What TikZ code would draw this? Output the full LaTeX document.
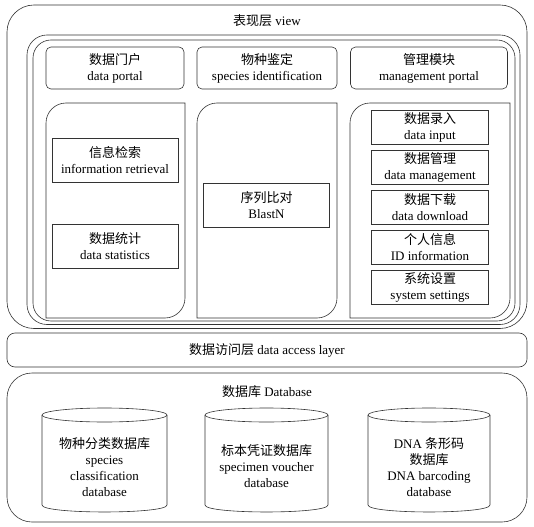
\documentclass[tikz,border=0pt]{standalone}
\usepackage{fontspec}
\setmainfont{Liberation Serif}
\newfontfamily\zh{Noto Sans CJK SC}
\usepackage{tikz}
\usetikzlibrary{positioning}
\tikzset{
  frame/.style={draw=black!80, line width=0.6pt},
  box/.style={frame, align=center, inner sep=2pt,
              font=\fontsize{13}{16}\selectfont},
  portal/.style={box, rounded corners=5pt, minimum height=42pt},
  item/.style={box, minimum width=126pt, minimum height=44pt},
  subitem/.style={box, minimum width=117pt, minimum height=34pt},
  caption/.style={align=center, font=\fontsize{13}{16}\selectfont},
}

\begin{document}
\begin{tikzpicture}[x=1pt, y=-1pt]
    \useasboundingbox (0,0) rectangle (534,526);
    % presentation layer
    \draw[frame, rounded corners=27pt] (7,5) rectangle (527,328.5);
    \node[caption] (view) at (267,21) {{\zh 表现层} view};
    \draw[frame, rounded corners=20pt] (27,35) rectangle (520,324.5);
    \draw[frame, rounded corners=18pt] (33,40) rectangle (515,321);
    % portals
    \node[portal, minimum width=138pt] (dataportal) at (115,68)
        {{\zh 数据门户}\\data portal};
    \node[portal, minimum width=140pt] (speciesid) at (267,68)
        {{\zh 物种鉴定}\\species identification};
    \node[portal, minimum width=157pt] (mgmtportal) at (429,68)
        {{\zh 管理模块}\\management portal};
    % module columns
    \foreach \xa/\xb in {46/185, 197/337, 350/510} {
      \draw[frame] (\xa,318) -- (\xa,123)
        .. controls (\xa,112) and (\xa+9,103) .. (\xa+20,103)
        -- (\xb,103) -- (\xb,298)
        .. controls (\xb,309) and (\xb-9,318) .. (\xb-20,318) -- cycle;
    }
    % left column
    \node[item] (retrieval) at (115,160) {{\zh 信息检索}\\information retrieval};
    \node[item] (statistics) at (115,246) {{\zh 数据统计}\\data statistics};
    % middle column
    \node[item] (blastn) at (266.5,205) {{\zh 序列比对}\\BlastN};
    % right column
    \node[subitem] (input) at (430,127) {{\zh 数据录入}\\data input};
    \node[subitem] (management) at (430,167) {{\zh 数据管理}\\data management};
    \node[subitem] (download) at (430,207) {{\zh 数据下载}\\data download};
    \node[subitem] (idinfo) at (430,247) {{\zh 个人信息}\\ID information};
    \node[subitem] (settings) at (430,287) {{\zh 系统设置}\\system settings};
    % data access layer
    \draw[frame, rounded corners=8pt] (7,333) rectangle (527,367);
    \node[caption] (access) at (267,350) {{\zh 数据访问层} data access layer};
    % database layer
    \draw[frame, rounded corners=25pt] (7,373) rectangle (527,522);
    \node[caption] (dbtitle) at (267,392) {{\zh 数据库} Database};
    \foreach \xa/\xb in {42/167, 205/328, 368/490} {
      \draw[frame] ({(\xa+\xb)/2},415) ellipse [x radius={(\xb-\xa)/2}, y radius=7];
      \draw[frame] (\xa,415) -- (\xa,505)
        .. controls (\xa,514.3) and (\xb,514.3) .. (\xb,505) -- (\xb,415);
    }
    \node[caption] (dbspecies) at (104.5,467)
        {{\zh 物种分类数据库}\\species\\classification\\database};
    \node[caption] (dbvoucher) at (266.5,466.5)
        {{\zh 标本凭证数据库}\\specimen voucher\\database};
    \node[caption] (dbbarcode) at (429,467)
        {DNA {\zh 条形码}\\{\zh 数据库}\\DNA barcoding\\database};
\end{tikzpicture}
\end{document}
